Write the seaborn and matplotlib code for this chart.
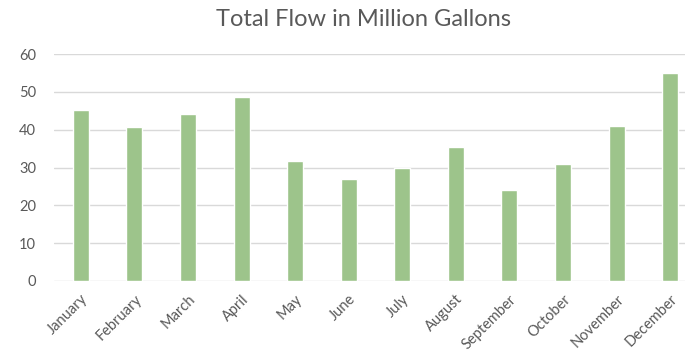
import matplotlib
matplotlib.use("Agg")
import matplotlib.pyplot as plt
import seaborn as sns
import pandas as pd

months = ["January", "February", "March", "April", "May", "June", "July",
          "August", "September", "October", "November", "December"]
flow = [45.2, 40.7, 44.2, 48.7, 31.7, 27.0, 30.0, 35.5, 24.1, 31.0, 41.1, 54.9]
title = "Total Flow in Million Gallons"

sns.set_theme(style="white")
plt.rcParams['font.family'] = ['Lato', 'DejaVu Sans']

df = pd.DataFrame({"month": months, "flow": flow})

fig = plt.figure(figsize=(6.85, 3.51), dpi=100)
ax = fig.add_axes([54/685, 1-281/351, (697-54)/685, (281-54)/351])
sns.barplot(data=df, x="month", y="flow", color="#9DC48B", width=0.3,
            saturation=1, ax=ax, zorder=3)
ax.set_xlim(-0.5, 11.5)
ax.set_ylim(0, 60)
ax.set_yticks(range(0, 61, 10))
ax.yaxis.grid(True, color="#D9D9D9", linewidth=1, zorder=0)
ax.set_axisbelow(True)
for s in ax.spines.values():
    s.set_visible(False)
ax.set_xlabel("")
ax.set_ylabel("")
ax.tick_params(axis="both", length=0, colors="#595959", labelsize=10.5)
ax.tick_params(axis="y", pad=13)
plt.setp(ax.get_xticklabels(), rotation=45, ha="right", rotation_mode="anchor")
ax.tick_params(axis="x", pad=8)
fig.text(363/685, 1-20/351, title, ha="center", va="center",
         fontsize=17, color="#595959")
fig.savefig("out.png", dpi=100)
